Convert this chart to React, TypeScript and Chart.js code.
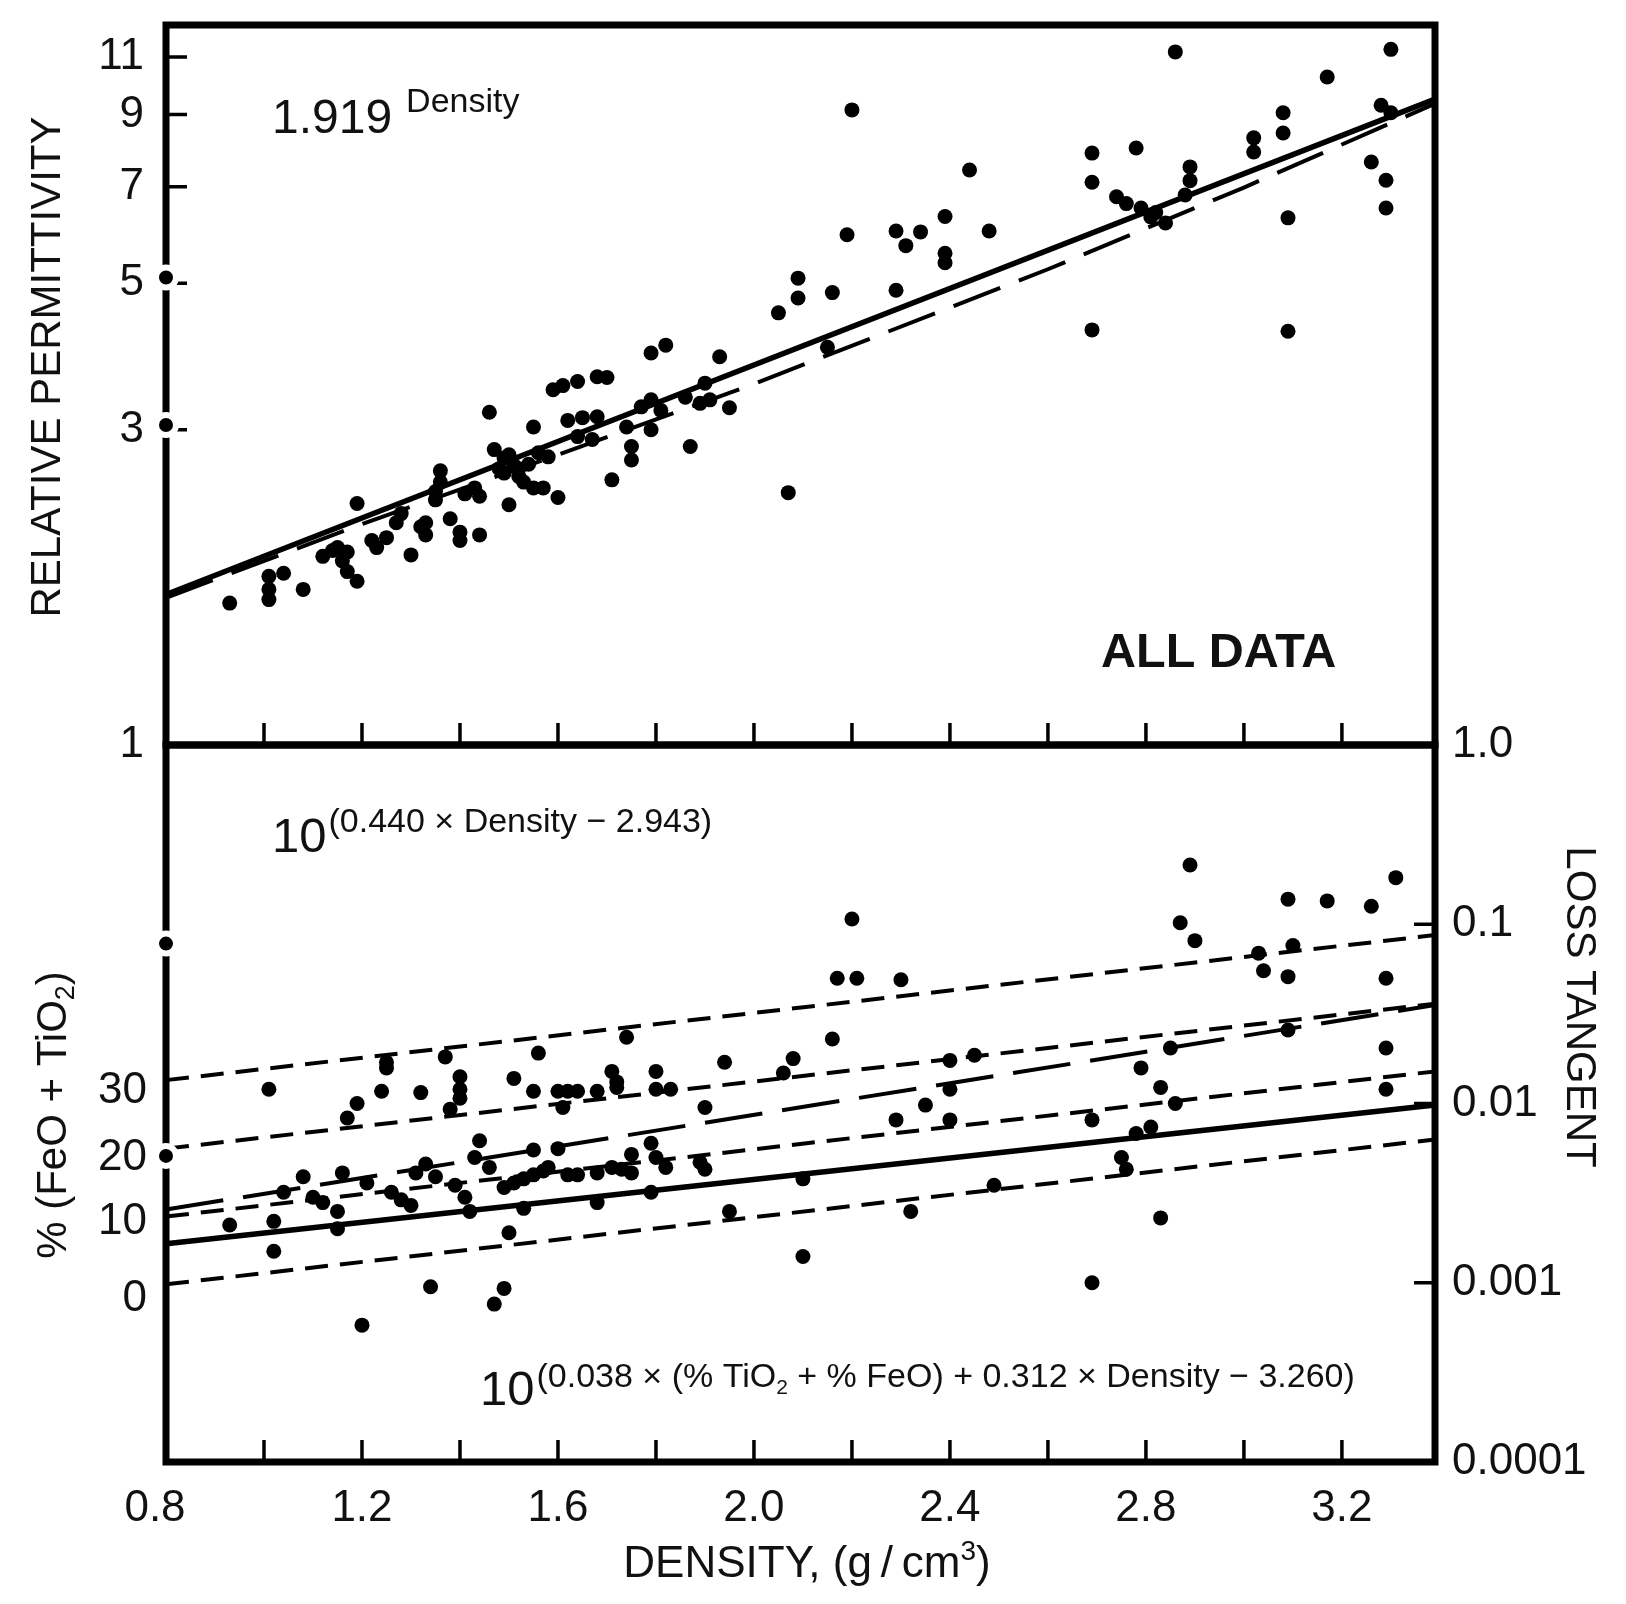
import React, { useEffect, useRef } from 'react';
import { Chart, registerables } from 'chart.js';

Chart.register(...registerables);

const FONT = '"Liberation Sans", Arial, Helvetica, sans-serif';
const INK = '#111';

// ---------- shared x axis (density) ----------
const densityMin = 0.8;
const densityMax = 3.39;
const densityLabelTicks = [0.8, 1.2, 1.6, 2.0, 2.4, 2.8, 3.2];
const densityMinorTicks = [1.0, 1.2, 1.4, 1.6, 1.8, 2.0, 2.2, 2.4, 2.6, 2.8, 3.0, 3.2];

// ---------- top panel: relative permittivity ----------
const permMin = 1;
const permMax = 12.3;
const permTicks = [1, 3, 5, 7, 9, 11];
const permInnerTicks = [3, 5, 7, 9, 11];

const permDensity = [
  0.93, 1.01, 1.01, 1.01, 1.04, 1.08, 1.12, 1.14, 1.15, 1.17, 1.16, 1.17, 1.19, 1.19, 1.22, 1.23,
  1.25, 1.27, 1.28, 1.30, 1.32, 1.33, 1.33, 1.36, 1.36, 1.35, 1.35, 1.38, 1.40, 1.40, 1.41, 1.43,
  1.44, 1.44, 1.46, 1.47, 1.49, 1.51, 1.49, 1.52, 1.54, 1.50, 1.52, 1.48, 1.50, 1.55, 1.55, 1.58,
  1.60, 1.57, 1.53, 1.56, 1.59, 1.61, 1.64, 1.62, 1.65, 1.68, 1.67, 1.64, 1.68, 1.70, 1.71, 1.74,
  1.75, 1.75, 1.77, 1.79, 1.81, 1.79, 1.79, 1.82, 1.86, 1.89, 1.91, 1.90, 1.87, 1.93, 1.95, 2.05,
  2.07, 2.09, 2.09, 2.15, 2.16, 2.19, 2.20, 2.29, 2.31, 2.34, 2.29, 2.39, 2.39, 2.39, 2.44, 2.48,
  2.69, 2.69, 2.69, 2.74, 2.76, 2.79, 2.81, 2.84, 2.82, 2.78, 2.86, 2.88, 2.89, 2.89, 3.02, 3.02,
  3.08, 3.08, 3.09, 3.09, 3.17, 3.26, 3.28, 3.30, 3.29, 3.29, 3.30,
];
const permValue = [
  1.64, 1.80, 1.72, 1.66, 1.82, 1.72, 1.93, 1.97, 1.99, 1.96, 1.90, 1.83, 1.77, 2.32, 2.04, 1.99,
  2.06, 2.17, 2.24, 1.94, 2.14, 2.08, 2.17, 2.60, 2.50, 2.42, 2.35, 2.20, 2.10, 2.04, 2.40, 2.45,
  2.38, 2.08, 3.19, 2.80, 2.72, 2.65, 2.58, 2.62, 2.66, 2.75, 2.55, 2.62, 2.31, 3.03, 2.45, 2.73,
  2.37, 2.45, 2.50, 2.77, 3.45, 3.50, 3.55, 3.10, 3.13, 3.14, 2.90, 2.93, 3.61, 3.60, 2.52, 3.03,
  2.83, 2.70, 3.25, 3.33, 3.21, 3.00, 3.92, 4.03, 3.36, 3.29, 3.33, 3.53, 2.83, 3.87, 3.24, 4.51,
  2.41, 5.09, 4.75, 4.00, 4.84, 5.92, 9.15, 6.00, 5.70, 5.98, 4.88, 6.31, 5.55, 5.37, 7.42, 6.00,
  7.87, 7.11, 4.25, 6.76, 6.60, 6.50, 6.30, 6.17, 6.40, 8.01, 11.2, 6.80, 7.50, 7.15, 8.30, 7.90,
  9.06, 8.44, 6.28, 4.23, 10.26, 7.63, 9.30, 9.06, 7.16, 6.50, 11.3,
];
const permEdgeDensity = [0.8, 0.8];
const permEdgeValue = [5.1, 3.05];

const permFitDensity = [0.8, 3.39];
const permFitValue = [1.69, 9.5];
const permAltDensity = [0.8, 1.2, 1.6, 2.0, 2.6, 3.0, 3.39];
const permAltValue = [1.67, 2.16, 2.75, 3.52, 5.25, 6.98, 9.35];

// ---------- bottom panel: loss tangent ----------
const lossMin = 0.0001;
const lossMax = 1;
const lossTicks = [1, 0.1, 0.01, 0.001, 0.0001];
const lossTickLabels = ['1.0', '0.1', '0.01', '0.001', '0.0001'];
const lossInnerTicks = [0.1, 0.01, 0.001];
const pctTickPositions = [0.00081, 0.0022, 0.005, 0.0118];
const pctTickLabels = ['0', '10', '20', '30'];

const lossDensity = [
  0.93, 1.01, 1.02, 1.02, 1.04, 1.08, 1.10, 1.12, 1.15, 1.15, 1.16, 1.17, 1.19, 1.20, 1.21, 1.24,
  1.25, 1.25, 1.26, 1.28, 1.30, 1.31, 1.33, 1.32, 1.34, 1.35, 1.39, 1.37, 1.38, 1.40, 1.40, 1.40,
  1.41, 1.42, 1.43, 1.44, 1.46, 1.47, 1.49, 1.50, 1.49, 1.51, 1.53, 1.55, 1.57, 1.58, 1.53, 1.51,
  1.55, 1.55, 1.60, 1.56, 1.60, 1.62, 1.64, 1.61, 1.62, 1.64, 1.68, 1.71, 1.75, 1.75, 1.73, 1.68,
  1.68, 1.71, 1.72, 1.72, 1.74, 1.79, 1.80, 1.82, 1.79, 1.80, 1.80, 1.83, 1.89, 1.90, 1.90, 1.94,
  1.95, 2.06, 2.08, 2.10, 2.10, 2.16, 2.17, 2.21, 2.20, 2.30, 2.29, 2.35, 2.40, 2.32, 2.40, 2.45,
  2.40, 2.49, 2.69, 2.69, 2.75, 2.76, 2.78, 2.81, 2.79, 2.83, 2.86, 2.83, 2.85, 2.87, 2.89, 2.90,
  3.03, 3.04, 3.09, 3.10, 3.09, 3.09, 3.17, 3.26, 3.31, 3.29, 3.29, 3.29,
];
const lossValue = [
  0.0021, 0.012, 0.0022, 0.0015, 0.0032, 0.0039, 0.003, 0.0028, 0.0025, 0.002, 0.0041, 0.0083, 0.01, 0.00058, 0.0036, 0.0117,
  0.0158, 0.017, 0.0032, 0.0029, 0.0027, 0.0041, 0.0046, 0.0115, 0.00095, 0.0039, 0.0035, 0.0182, 0.0093, 0.0141, 0.012, 0.0107,
  0.003, 0.0025, 0.005, 0.0062, 0.0044, 0.00076, 0.00093, 0.0019, 0.0034, 0.0036, 0.0038, 0.004, 0.0042, 0.0044, 0.0026, 0.0138,
  0.0117, 0.0055, 0.0056, 0.0191, 0.0117, 0.0117, 0.0117, 0.0095, 0.004, 0.004, 0.0041, 0.0044, 0.0052, 0.0041, 0.0043, 0.0028,
  0.0117, 0.0151, 0.0132, 0.0123, 0.0234, 0.006, 0.005, 0.0044, 0.0032, 0.0151, 0.012, 0.012, 0.0047, 0.0043, 0.0095, 0.017,
  0.0025, 0.0148, 0.0178, 0.0038, 0.0014, 0.0229, 0.05, 0.05, 0.107, 0.049, 0.0081, 0.0098, 0.0081, 0.0025, 0.0174, 0.0186,
  0.012, 0.0035, 0.0081, 0.001, 0.005, 0.0043, 0.0068, 0.0074, 0.0158, 0.0123, 0.01, 0.0023, 0.0204, 0.102, 0.214, 0.081,
  0.069, 0.055, 0.138, 0.076, 0.051, 0.0257, 0.135, 0.126, 0.182, 0.05, 0.0204, 0.012,
];
const lossEdgeDensity = [0.8, 0.8];
const lossEdgeValue = [0.078, 0.0051];

const lineDensity = [0.8, 3.39];
const iso0Value = [0.00098, 0.0063];
const iso10Value = [0.00234, 0.0151];
const iso20Value = [0.0056, 0.036];
const iso30Value = [0.0135, 0.087];
const densityFitValue = [0.00256, 0.0354];
const combinedFitValue = [0.00165, 0.0098];

// ---------- helpers ----------
const pts = (xs: number[], ys: number[]) => xs.map((x, i) => ({ x, y: ys[i] }));

type Run = { t: string; size: number; dy?: number; gap?: number; bold?: boolean };
const fontOf = (r: Run) => `${r.bold ? 'bold ' : ''}${r.size}px ${FONT}`;
function runsWidth(ctx: CanvasRenderingContext2D, runs: Run[]) {
  let w = 0;
  for (const r of runs) {
    ctx.font = fontOf(r);
    w += (r.gap || 0) + ctx.measureText(r.t).width;
  }
  return w;
}
function drawRuns(ctx: CanvasRenderingContext2D, x: number, y: number, runs: Run[]) {
  let cx = x;
  ctx.textBaseline = 'alphabetic';
  ctx.textAlign = 'left';
  for (const r of runs) {
    cx += r.gap || 0;
    ctx.font = fontOf(r);
    ctx.fillText(r.t, cx, y + (r.dy || 0));
    cx += ctx.measureText(r.t).width;
  }
}
function drawRotated(ctx: CanvasRenderingContext2D, cx: number, cy: number, angle: number, runs: Run[], capSize: number) {
  ctx.save();
  ctx.translate(cx, cy);
  ctx.rotate(angle);
  const w = runsWidth(ctx, runs);
  drawRuns(ctx, -w / 2, (capSize * 0.716) / 2, runs);
  ctx.restore();
}

function makeFramePlugin(cfg: { yId: string; leftTicks?: number[]; rightTicks?: number[] }) {
  return {
    id: 'frame',
    beforeDatasetsDraw(chart: any) {
      const { ctx, chartArea: a } = chart;
      const xs = chart.scales.x;
      const ys = chart.scales[cfg.yId];
      ctx.save();
      ctx.strokeStyle = '#000';
      ctx.lineWidth = 3.5;
      ctx.beginPath();
      for (const v of densityMinorTicks) {
        const px = xs.getPixelForValue(v);
        ctx.moveTo(px, a.bottom);
        ctx.lineTo(px, a.bottom - 22);
      }
      for (const v of cfg.leftTicks || []) {
        const py = ys.getPixelForValue(v);
        ctx.moveTo(a.left, py);
        ctx.lineTo(a.left + 21, py);
      }
      for (const v of cfg.rightTicks || []) {
        const py = ys.getPixelForValue(v);
        ctx.moveTo(a.right, py);
        ctx.lineTo(a.right - 21, py);
      }
      ctx.stroke();
      ctx.lineWidth = 7;
      ctx.lineJoin = 'miter';
      ctx.strokeRect(a.left, a.top, a.right - a.left, a.bottom - a.top);
      ctx.restore();
    },
  };
}

const topTextPlugin = {
  id: 'topText',
  afterDraw(chart: any) {
    const ctx: CanvasRenderingContext2D = chart.ctx;
    ctx.save();
    ctx.fillStyle = INK;
    drawRuns(ctx, 272, 133, [
      { t: '1.919', size: 48 },
      { t: 'Density', size: 34, dy: -21, gap: 14 },
    ]);
    drawRuns(ctx, 1101, 667, [{ t: 'ALL DATA', size: 48.5, bold: true }]);
    drawRotated(ctx, 45, 367, -Math.PI / 2, [{ t: 'RELATIVE PERMITTIVITY', size: 42 }], 42);
    ctx.restore();
  },
};

const bottomTextPlugin = {
  id: 'bottomText',
  afterDraw(chart: any) {
    const ctx: CanvasRenderingContext2D = chart.ctx;
    ctx.save();
    ctx.fillStyle = INK;
    drawRuns(ctx, 272, 852, [
      { t: '10', size: 49 },
      { t: '(0.440 \u00d7 Density \u2212 2.943)', size: 34, dy: -20, gap: 2 },
    ]);
    drawRuns(ctx, 480, 1405, [
      { t: '10', size: 49 },
      { t: '(0.038 \u00d7 (% TiO', size: 34, dy: -18, gap: 2 },
      { t: '2', size: 21, dy: -11 },
      { t: ' + % FeO) + 0.312 \u00d7 Density \u2212 3.260)', size: 34, dy: -18 },
    ]);
    drawRotated(ctx, 51, 1115, -Math.PI / 2, [
      { t: '% (FeO + TiO', size: 42 },
      { t: '2', size: 27, dy: 8 },
      { t: ')', size: 42 },
    ], 42);
    drawRotated(ctx, 1582, 1007, Math.PI / 2, [{ t: 'LOSS TANGENT', size: 42 }], 42);
    const title: Run[] = [
      { t: 'DENSITY, (g\u2009/\u2009cm', size: 44 },
      { t: '3', size: 28, dy: -17 },
      { t: ')', size: 44 },
    ];
    const w = runsWidth(ctx, title);
    drawRuns(ctx, 807 - w / 2, 1577, title);
    ctx.restore();
  },
};

const tickFont = { family: FONT, size: 44 };
const noGrid = { display: false, drawTicks: false };
const noBorder = { display: false };

const fixWidth = (w: number) => (s: any) => {
  s.width = w;
  s.paddingTop = 0;
  s.paddingBottom = 0;
  s.paddingLeft = 0;
  s.paddingRight = 0;
};
const fixHeight = (h: number) => (s: any) => {
  s.height = h;
  s.paddingTop = 0;
  s.paddingBottom = 0;
  s.paddingLeft = 0;
  s.paddingRight = 0;
};

function pointSet(data: any[], extra: any = {}) {
  return {
    data,
    showLine: false,
    pointRadius: 7.5,
    pointHoverRadius: 7.5,
    pointBackgroundColor: '#000',
    backgroundColor: '#000',
    pointBorderWidth: 0,
    clip: false,
    order: 0,
    ...extra,
  };
}
function lineSet(data: any[], width: number, dash: number[], extra: any = {}) {
  return {
    data,
    showLine: true,
    borderColor: '#000',
    borderWidth: width,
    borderDash: dash,
    pointRadius: 0,
    pointHoverRadius: 0,
    fill: false,
    clip: false,
    order: 2,
    ...extra,
  };
}
const edgeExtra = {
  pointRadius: 10,
  pointHoverRadius: 10,
  pointBorderWidth: 6,
  pointBorderColor: '#fff',
  borderColor: '#fff',
  order: -1,
};

function topConfig(): any {
  return {
    type: 'scatter',
    data: {
      datasets: [
        lineSet(pts(permFitDensity, permFitValue), 5.5, []),
        lineSet(pts(permAltDensity, permAltValue), 4, [50, 20]),
        pointSet(pts(permDensity, permValue)),
        pointSet(pts(permEdgeDensity, permEdgeValue), edgeExtra),
      ],
    },
    options: {
      responsive: false,
      animation: false,
      devicePixelRatio: 1,
      events: [],
      layout: { padding: { left: 0, top: 25, right: 191, bottom: 859 } },
      plugins: { legend: { display: false }, tooltip: { enabled: false } },
      scales: {
        x: {
          type: 'linear',
          bounds: 'data',
          min: densityMin,
          max: densityMax,
          ticks: { display: false },
          grid: noGrid,
          border: noBorder,
          afterFit: fixHeight(0),
        },
        y: {
          type: 'logarithmic',
          position: 'left',
          bounds: 'data',
          min: permMin,
          max: permMax,
          afterBuildTicks: (s: any) => { s.ticks = permTicks.map((v) => ({ value: v })); },
          ticks: {
            callback: (v: any) => String(v),
            font: tickFont,
            color: INK,
            padding: 22,
            autoSkip: false,
          },
          grid: noGrid,
          border: noBorder,
          afterFit: fixWidth(166),
        },
      },
    },
    plugins: [makeFramePlugin({ yId: 'y', leftTicks: permInnerTicks }), topTextPlugin],
  };
}

function bottomConfig(): any {
  return {
    type: 'scatter',
    data: {
      datasets: [
        lineSet(pts(lineDensity, combinedFitValue), 5.5, [], { yAxisID: 'y2' }),
        lineSet(pts(lineDensity, densityFitValue), 4, [58, 20], { yAxisID: 'y2' }),
        lineSet(pts(lineDensity, iso0Value), 4, [23, 12], { yAxisID: 'y2' }),
        lineSet(pts(lineDensity, iso10Value), 4, [23, 12], { yAxisID: 'y2' }),
        lineSet(pts(lineDensity, iso20Value), 4, [23, 12], { yAxisID: 'y2' }),
        lineSet(pts(lineDensity, iso30Value), 4, [23, 12], { yAxisID: 'y2' }),
        pointSet(pts(lossDensity, lossValue), { yAxisID: 'y2' }),
        pointSet(pts(lossEdgeDensity, lossEdgeValue), { ...edgeExtra, yAxisID: 'y2' }),
      ],
    },
    options: {
      responsive: false,
      animation: false,
      devicePixelRatio: 1,
      events: [],
      layout: { padding: { left: 0, top: 745, right: 0, bottom: 0 } },
      plugins: { legend: { display: false }, tooltip: { enabled: false } },
      scales: {
        x: {
          type: 'linear',
          position: 'bottom',
          bounds: 'data',
          min: densityMin,
          max: densityMax,
          afterBuildTicks: (s: any) => { s.ticks = densityLabelTicks.map((v) => ({ value: v })); },
          ticks: {
            callback: (v: any, i: number) => Number(v).toFixed(1) + (i === 0 ? '\u2002' : ''),
            font: tickFont,
            color: INK,
            padding: 20,
            autoSkip: false,
            maxRotation: 0,
          },
          grid: noGrid,
          border: noBorder,
          afterFit: fixHeight(142),
        },
        y: {
          type: 'logarithmic',
          position: 'left',
          bounds: 'data',
          min: lossMin,
          max: lossMax,
          afterBuildTicks: (s: any) => { s.ticks = pctTickPositions.map((v) => ({ value: v })); },
          ticks: {
            callback: (_v: any, i: number) => pctTickLabels[i],
            font: tickFont,
            color: INK,
            padding: 19,
            autoSkip: false,
          },
          grid: noGrid,
          border: noBorder,
          afterFit: fixWidth(166),
        },
        y2: {
          type: 'logarithmic',
          position: 'right',
          bounds: 'data',
          min: lossMin,
          max: lossMax,
          afterBuildTicks: (s: any) => { s.ticks = lossTicks.map((v) => ({ value: v })); },
          ticks: {
            callback: (_v: any, i: number) => lossTickLabels[i],
            font: tickFont,
            color: INK,
            padding: 17,
            autoSkip: false,
          },
          grid: noGrid,
          border: noBorder,
          afterFit: fixWidth(191),
        },
      },
    },
    plugins: [makeFramePlugin({ yId: 'y2', rightTicks: lossInnerTicks }), bottomTextPlugin],
  };
}

export default function App() {
  const topRef = useRef<HTMLCanvasElement>(null);
  const botRef = useRef<HTMLCanvasElement>(null);
  useEffect(() => {
    document.body.style.margin = '0';
    document.body.style.overflow = 'hidden';
    const bottom = new Chart(botRef.current as HTMLCanvasElement, bottomConfig());
    const top = new Chart(topRef.current as HTMLCanvasElement, topConfig());
    return () => {
      top.destroy();
      bottom.destroy();
    };
  }, []);
  const canvasStyle: React.CSSProperties = { position: 'absolute', left: 0, top: 0, width: 1626, height: 1604 };
  return (
    <div style={{ position: 'absolute', left: 0, top: 0, width: 1626, height: 1604, background: '#fff', overflow: 'hidden' }}>
      <canvas ref={botRef} width={1626} height={1604} style={canvasStyle} />
      <canvas ref={topRef} width={1626} height={1604} style={canvasStyle} />
    </div>
  );
}
